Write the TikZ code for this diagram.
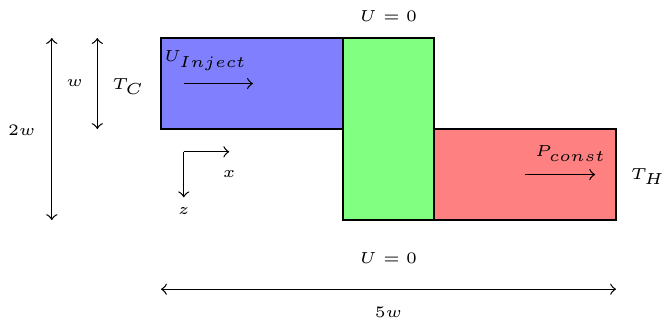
\documentclass[tikz,border=0pt]{standalone}
\usetikzlibrary{arrows}
\tikzset{
  lbl/.style={font=\tiny},
  dim/.style={<->},
  flow/.style={->},
  region/.style={draw, thin}
}
\begin{document}
\begin{tikzpicture}

\useasboundingbox (-1.769, 0.418) rectangle (5.505, -3.154);

% ── Regiones ──────────────────────────────────────────────────
\fill[blue!50]  (0, 0) rectangle (2, -1);
\draw[region]   (0, 0) rectangle (2, -1);
\fill[red!50]   (3, -1) rectangle (5, -2);
\draw[region]   (3, -1) rectangle (5, -2);
\fill[green!50] (2, 0) rectangle (3, -2);
\draw[region]   (2, 0) rectangle (3, -2);

% ── Condiciones de borde ──────────────────────────────────────
\node[lbl] (utop) at (2.5, 0.24) {$U = 0$};
\node[lbl] (ubot) at (2.5, -2.42) {$U = 0$};
\node[lbl] (tc) at (-0.36, -0.53) {$T_C$};
\node[lbl] (th) at (5.35, -1.52) {$T_H$};

% ── Flujo de entrada / salida ─────────────────────────────────
\node[lbl] (uinj) at (0.49, -0.25) {$U_{Inject}$};
\coordinate (inja) at (0.25, -0.5);
\coordinate (injb) at (1.01, -0.5);
\draw[flow] (inja) -- (injb);

\node[lbl] (pconst) at (4.5, -1.27) {$P_{const}$};
\coordinate (outa) at (4.0, -1.5);
\coordinate (outb) at (4.77, -1.5);
\draw[flow] (outa) -- (outb);

% ── Ejes ──────────────────────────────────────────────────────
\coordinate (orig) at (0.25, -1.25);
\node[lbl] (xlab) at (0.75, -1.49) {$x$};
\node[lbl] (zlab) at (0.25, -1.9) {$z$};
\draw[flow] (orig) -- ++(0.5, 0);
\draw[flow] (orig) -- ++(0, -0.5);

% ── Cotas ─────────────────────────────────────────────────────
\coordinate (ta) at (-1.2, 0);
\coordinate (tb) at (-1.2, -2);
\draw[dim] (ta) -- (tb);
\node[lbl] (twow) at (-1.53, -1.01) {$2w$};

\coordinate (wa) at (-0.7, 0);
\coordinate (wb) at (-0.7, -1);
\draw[dim] (wa) -- (wb);
\node[lbl] (onew) at (-0.95, -0.49) {$w$};

\coordinate (la) at (0, -2.76);
\coordinate (lb) at (5, -2.76);
\draw[dim] (la) -- (lb);
\node[lbl] (fivew) at (2.5, -3.01) {$5w$};

\end{tikzpicture}
\end{document}
